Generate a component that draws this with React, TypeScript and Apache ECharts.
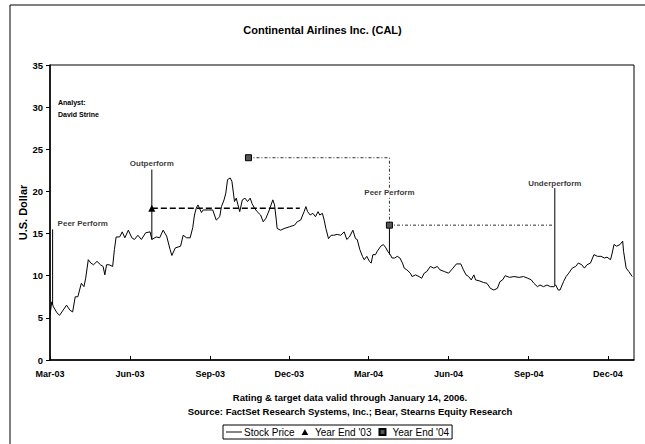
import React, { useEffect, useRef } from "react";
import * as echarts from "echarts";

const NARROW = '"Liberation Sans Narrow", "Arial Narrow", "Liberation Sans", Arial, sans-serif';
const REGULAR = '"Liberation Sans", Arial, sans-serif';

const titleText = "Continental Airlines Inc. (CAL)";
const yAxisName = "U.S. Dollar";
const footerLines = [
  "Rating & target data valid through January 14, 2006.",
  "Source: FactSet Research Systems, Inc.; Bear, Stearns Equity Research",
];
const analystLines = ["Analyst:", "David Strine"];

const axisStart = "2003-03-01";
const axisEnd = "2004-12-31";
const tickDates = ["2003-03-01", "2003-06-01", "2003-09-01", "2003-12-01", "2004-03-01", "2004-06-01", "2004-09-01", "2004-12-01"];
const tickLabels = ["Mar-03", "Jun-03", "Sep-03", "Dec-03", "Mar-04", "Jun-04", "Sep-04", "Dec-04"];

const priceDates = [
  "2003-03-01", "2003-03-03", "2003-03-05", "2003-03-09", "2003-03-12", "2003-03-16", "2003-03-20", "2003-03-24", "2003-03-27", "2003-03-30",
  "2003-04-02", "2003-04-04", "2003-04-06", "2003-04-09", "2003-04-11", "2003-04-14", "2003-04-17", "2003-04-20", "2003-04-24", "2003-04-28",
  "2003-05-01", "2003-05-03", "2003-05-05", "2003-05-08", "2003-05-12", "2003-05-14", "2003-05-16", "2003-05-20", "2003-05-23", "2003-05-26",
  "2003-05-30", "2003-06-03", "2003-06-06", "2003-06-10", "2003-06-14", "2003-06-19", "2003-06-24", "2003-06-26", "2003-07-01", "2003-07-05",
  "2003-07-09", "2003-07-13", "2003-07-17", "2003-07-19", "2003-07-23", "2003-07-29", "2003-08-01", "2003-08-05", "2003-08-09", "2003-08-12",
  "2003-08-14", "2003-08-16", "2003-08-18", "2003-08-22", "2003-08-24", "2003-08-30", "2003-09-04", "2003-09-08", "2003-09-12", "2003-09-14",
  "2003-09-17", "2003-09-19", "2003-09-21", "2003-09-24", "2003-09-26", "2003-09-29", "2003-10-01", "2003-10-03", "2003-10-05", "2003-10-08",
  "2003-10-11", "2003-10-14", "2003-10-17", "2003-10-19", "2003-10-22", "2003-10-25", "2003-10-29", "2003-11-01", "2003-11-04", "2003-11-08",
  "2003-11-12", "2003-11-14", "2003-11-16", "2003-11-17", "2003-11-21", "2003-11-25", "2003-12-01", "2003-12-07", "2003-12-10", "2003-12-14",
  "2003-12-18", "2003-12-20", "2003-12-22", "2003-12-25", "2003-12-28", "2003-12-31", "2004-01-03", "2004-01-05", "2004-01-08", "2004-01-10",
  "2004-01-12", "2004-01-15", "2004-01-18", "2004-01-21", "2004-01-25", "2004-01-29", "2004-02-02", "2004-02-05", "2004-02-08", "2004-02-12",
  "2004-02-15", "2004-02-17", "2004-02-20", "2004-02-23", "2004-02-25", "2004-02-28", "2004-03-02", "2004-03-04", "2004-03-06", "2004-03-09",
  "2004-03-11", "2004-03-15", "2004-03-18", "2004-03-21", "2004-03-23", "2004-03-26", "2004-03-28", "2004-03-31", "2004-04-03", "2004-04-06",
  "2004-04-09", "2004-04-11", "2004-04-14", "2004-04-18", "2004-04-20", "2004-04-24", "2004-04-28", "2004-05-01", "2004-05-04", "2004-05-07",
  "2004-05-11", "2004-05-15", "2004-05-19", "2004-05-22", "2004-05-27", "2004-06-01", "2004-06-06", "2004-06-10", "2004-06-15", "2004-06-18",
  "2004-06-21", "2004-06-24", "2004-06-27", "2004-06-30", "2004-07-02", "2004-07-06", "2004-07-11", "2004-07-15", "2004-07-19", "2004-07-23",
  "2004-07-27", "2004-07-30", "2004-08-02", "2004-08-05", "2004-08-10", "2004-08-15", "2004-08-21", "2004-08-26", "2004-08-31", "2004-09-04",
  "2004-09-07", "2004-09-11", "2004-09-14", "2004-09-18", "2004-09-22", "2004-09-26", "2004-09-30", "2004-10-02", "2004-10-05", "2004-10-07",
  "2004-10-11", "2004-10-14", "2004-10-17", "2004-10-21", "2004-10-25", "2004-10-28", "2004-11-01", "2004-11-04", "2004-11-07", "2004-11-11",
  "2004-11-15", "2004-11-19", "2004-11-23", "2004-11-27", "2004-11-30", "2004-12-04", "2004-12-06", "2004-12-08", "2004-12-11", "2004-12-15",
  "2004-12-18", "2004-12-19", "2004-12-22", "2004-12-25", "2004-12-29",
];
const priceValues = [
  5.3, 6.9, 6.3, 5.6, 5.3, 5.9, 6.5, 5.9, 5.7, 7.5,
  7.5, 8.3, 9.1, 8.7, 9.7, 11.9, 11.5, 11.3, 11.7, 11.3,
  11.1, 10.1, 11.3, 11.3, 11.1, 13.1, 14.6, 14.6, 15.2, 14.5,
  15.4, 14.5, 14.3, 14.8, 14.3, 15.1, 15.2, 14.3, 14.6, 14.5,
  15.4, 14.7, 13.1, 12.4, 13.3, 13.5, 14.8, 14.5, 14.5, 15.7,
  17.2, 18.0, 18.4, 17.5, 17.8, 17.8, 17.8, 16.6, 17.0, 18.2,
  19.0, 19.8, 21.4, 21.6, 21.2, 18.8, 19.2, 18.4, 17.6, 19.0,
  19.2, 18.8, 19.2, 18.6, 18.0, 17.6, 17.2, 16.4, 16.8, 17.8,
  19.0, 18.4, 16.6, 15.6, 15.4, 15.6, 15.8, 16.0, 16.4, 16.6,
  17.6, 18.2, 17.6, 17.2, 17.4, 17.0, 17.6, 17.2, 17.4, 16.6,
  15.6, 14.4, 14.8, 14.8, 14.9, 14.8, 15.2, 14.3, 14.6, 15.4,
  14.4, 14.3, 13.1, 12.3, 11.9, 12.3, 11.7, 11.5, 12.5, 12.5,
  12.9, 13.5, 13.7, 13.3, 12.9, 12.5, 12.1, 12.1, 12.3, 12.1,
  11.5, 10.9, 10.7, 10.3, 9.9, 10.1, 9.9, 9.7, 10.3, 10.5,
  11.1, 10.9, 11.1, 10.7, 10.5, 10.3, 10.9, 11.4, 11.4, 10.7,
  10.1, 9.9, 9.5, 10.1, 9.5, 9.4, 9.2, 9.1, 8.5, 8.3,
  8.5, 9.3, 9.5, 10.0, 9.8, 9.9, 9.8, 9.9, 9.7, 9.5,
  9.1, 8.7, 8.9, 8.7, 8.9, 8.7, 8.7, 8.9, 8.3, 8.3,
  9.3, 9.9, 10.3, 10.9, 11.1, 11.5, 11.3, 10.9, 11.3, 11.5,
  12.5, 12.3, 12.3, 12.1, 12.2, 11.9, 12.7, 13.7, 13.5, 13.7,
  14.1, 12.9, 10.9, 10.5, 9.9,
];

// Year End '03 price target
const ye03Dates = ["2003-06-26", "2003-12-13"];
const ye03Values = [18, 18];
const ye03Markers = [true, false];

// Year End '04 price target
const ye04Dates = ["2003-10-15", "2004-03-25", "2004-03-25", "2004-09-30"];
const ye04Values = [24, 24, 16, 16];
const ye04Markers = [true, false, true, false];

// Rating changes
const ratingNames = ["Peer Perform", "Outperform", "Peer Perform", "Underperform"];
const ratingDates = ["2003-03-04", "2003-06-26", "2004-03-25", "2004-10-01"];
const ratingTop = [15.5, 22.6, 16.0, 20.4];
const ratingBottom = [6.6, 14.3, 12.5, 8.8];
const ratingLabelValue = [16.2, 23.3, 19.9, 21.0];
const ratingLabelAlign = ["left", "center", "center", "center"];

const ts = (s: string) => new Date(s + "T00:00:00").getTime();

const ICON_LINE = "path://M0,0L20,0L20,1.2L0,1.2Z";
const ICON_TRI = "path://M5,0L10,9L0,9Z";
const ICON_SQ = "path://M0,0L10,0L10,10L0,10Z";

export default function App() {
  const ref = useRef<HTMLDivElement>(null);
  useEffect(() => {
    document.body.style.margin = "0";
    const chart = echarts.init(ref.current!, null, { renderer: "svg" });
    const tickValues = tickDates.map(ts);

    const ratingLineSeries = ratingNames.map((n, i) => ({
      type: "line",
      name: "rating" + i,
      data: [
        [ts(ratingDates[i]), ratingTop[i]],
        [ts(ratingDates[i]), ratingBottom[i]],
      ],
      symbol: "none",
      lineStyle: { color: "#000", width: 1 },
      z: 4,
    }));

    const option: any = {
      animation: false,
      backgroundColor: "#fff",
      title: [
        {
          text: titleText,
          left: "center",
          top: 19,
          textStyle: { fontFamily: NARROW, fontWeight: "bold", fontSize: 11, color: "#000" },
        },
        {
          text: footerLines.join("\n"),
          left: 345,
          top: 385,
          textAlign: "center",
          textStyle: { fontFamily: NARROW, fontWeight: "bold", fontSize: 9.5, lineHeight: 14, color: "#000" },
        },
      ],
      legend: {
        data: [
          { name: "Stock Price", icon: ICON_LINE },
          { name: "Year End '03", icon: ICON_TRI },
          { name: "Year End '04", icon: ICON_SQ },
        ],
        left: 223,
        top: 425,
        borderColor: "#000",
        borderWidth: 1,
        padding: [2, 3, 2, 3],
        itemGap: 7,
        itemWidth: 16,
        itemHeight: 6,
        symbolKeepAspect: true,
        selectedMode: false,
        textStyle: { fontFamily: REGULAR, fontSize: 10, color: "#000", padding: [0, 0, 0, -3] },
      },
      grid: { left: 50, right: 11, top: 65, bottom: 84, show: true, borderColor: "#000", borderWidth: 1 },
      graphic: [
        {
          type: "rect",
          shape: { x: 10, y: 5, width: 700, height: 500 },
          style: { fill: "none", stroke: "#000", lineWidth: 1 },
          silent: true,
          z: -10,
        },
        {
          type: "text",
          x: 58,
          y: 96,
          style: {
            text: analystLines.join("\n"),
            fontFamily: NARROW,
            fontWeight: "bold",
            fontSize: 7,
            lineHeight: 12,
            fill: "#000",
          },
        },
      ],
      xAxis: {
        type: "value",
        min: ts(axisStart),
        max: ts(axisEnd),
        axisLine: { lineStyle: { color: "#000", width: 1.5 } },
        axisTick: { show: true, inside: true, length: 4, customValues: tickValues, lineStyle: { color: "#000" } },
        axisLabel: {
          customValues: tickValues,
          formatter: (v: number) => {
            let best = 0;
            for (let i = 1; i < tickValues.length; i++) {
              if (Math.abs(tickValues[i] - v) < Math.abs(tickValues[best] - v)) best = i;
            }
            return tickLabels[best];
          },
          fontFamily: NARROW,
          fontWeight: "bold",
          fontSize: 9,
          color: "#000",
          margin: 9,
        },
        splitLine: { show: false },
      },
      yAxis: {
        type: "value",
        min: 0,
        max: 35,
        interval: 5,
        name: yAxisName,
        nameLocation: "middle",
        nameGap: 22,
        nameMoveOverlap: false,
        nameTextStyle: { fontFamily: NARROW, fontWeight: "bold", fontSize: 11, color: "#000" },
        axisLine: { show: true, lineStyle: { color: "#000", width: 1.5 } },
        axisTick: { show: true, length: 4, lineStyle: { color: "#000" } },
        axisLabel: { fontFamily: NARROW, fontWeight: "bold", fontSize: 9.5, color: "#000", margin: 7 },
        splitLine: { show: false },
      },
      series: [
        {
          type: "line",
          name: "Stock Price",
          data: priceDates.map((d, i) => [ts(d), priceValues[i]]),
          symbol: "none",
          lineStyle: { color: "#000", width: 1 },
          itemStyle: { color: "#000" },
          z: 3,
        },
        {
          type: "line",
          name: "Year End '03",
          data: ye03Dates.map((d, i) => ({
            value: [ts(d), ye03Values[i]],
            symbol: ye03Markers[i] ? "triangle" : "none",
          })),
          symbol: "triangle",
          symbolSize: 7,
          lineStyle: { color: "#000", width: 1.5, type: [6, 3] },
          itemStyle: { color: "#000" },
          z: 5,
        },
        {
          type: "line",
          name: "Year End '04",
          data: ye04Dates.map((d, i) => ({
            value: [ts(d), ye04Values[i]],
            symbol: ye04Markers[i] ? "rect" : "none",
          })),
          symbol: "rect",
          symbolSize: 6,
          lineStyle: { color: "#333", width: 1, type: [3, 2, 1, 2] },
          itemStyle: { color: "#555", borderColor: "#000", borderWidth: 1 },
          z: 5,
        },
        ...ratingLineSeries,
        {
          type: "scatter",
          name: "ratingLabels",
          symbolSize: 0,
          data: ratingNames.map((n, i) => ({
            value: [ts(ratingDates[i]), ratingLabelValue[i]],
            label: {
              show: true,
              formatter: n,
              position: "inside",
              align: ratingLabelAlign[i],
              offset: ratingLabelAlign[i] === "left" ? [5, 0] : [0, 0],
              fontFamily: NARROW,
              fontWeight: "bold",
              fontSize: 8,
              color: "#000",
              backgroundColor: "#fff",
            },
          })),
          z: 6,
        },
      ],
    };
    chart.setOption(option);
    return () => chart.dispose();
  }, []);
  return <div ref={ref} style={{ width: 645, height: 444 }} />;
}
